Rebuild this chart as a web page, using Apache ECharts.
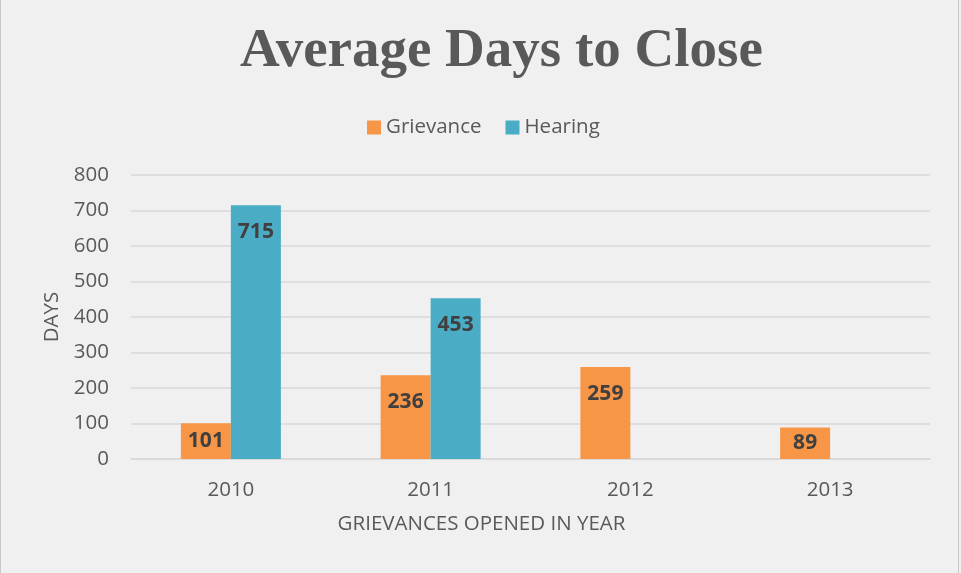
<!DOCTYPE html>
<html><head><meta charset="utf-8">
<script src="https://cdn.jsdelivr.net/npm/echarts@6/dist/echarts.min.js"></script>
<style>
html,body{margin:0;padding:0;background:#f0f0f0;}
#c{position:absolute;left:0;top:0;width:959px;height:573px;border-left:1px solid #c8c8c8;border-right:1px solid #c8c8c8;box-sizing:border-box;background:#f0f0f0;}
</style></head>
<body><div id="c"></div>
<script>
const categories = ['2010','2011','2012','2013'];
const grievance = [101, 236, 259, 89];
const hearing = [715, 453, null, null];
const yTicks = [0,100,200,300,400,500,600,700,800];

const chart = echarts.init(document.getElementById('c'));
const lbl = {show:true, position:'insideTop', distance:16, color:'#404040', fontWeight:'bold', fontSize:21, fontFamily:'Open Sans'};
const toItems = arr => arr.map(v => v == null ? null : (v < 150 ? {value:v, label:{position:'inside'}} : v));
chart.setOption({
  backgroundColor:'#f0f0f0',
  title:{text:'Average Days to Close', left:234, top:19,
    textStyle:{fontFamily:'Liberation Serif', fontWeight:'bold', fontSize:55, color:'#595959'}},
  legend:{top:112, left:361, itemWidth:14, itemHeight:14, itemGap:24, icon:'rect',
    textStyle:{fontFamily:'Open Sans', fontSize:20.5, color:'#595959'}},
  grid:{left:130, right:28, top:175, bottom:114},
  xAxis:{type:'category', data:categories,
    axisLine:{lineStyle:{color:'#d9d9d9', width:1.5}}, axisTick:{show:false},
    axisLabel:{fontFamily:'Open Sans', fontSize:20.5, color:'#595959', margin:21},
    name:'GRIEVANCES OPENED IN YEAR', nameLocation:'middle', nameGap:55,
    nameTextStyle:{fontFamily:'Open Sans', fontSize:20.5, color:'#595959', padding:[0,98,0,0]}},
  yAxis:{type:'value', min:0, max:800, interval:100,
    axisLabel:{fontFamily:'Open Sans', fontSize:20.5, color:'#595959', margin:22,
      formatter:v=>yTicks.includes(v)?String(v):''},
    splitLine:{lineStyle:{color:'#d9d9d9', width:1.5}},
    axisLine:{show:false}, axisTick:{show:false},
    name:'DAYS', nameLocation:'middle', nameGap:68, nameRotate:90,
    nameTextStyle:{fontFamily:'Open Sans', fontSize:20.5, color:'#595959'}},
  series:[
    {name:'Grievance', type:'bar', data:toItems(grievance), barWidth:50, barGap:'0%',
      itemStyle:{color:'#f79646'}, label:lbl},
    {name:'Hearing', type:'bar', data:toItems(hearing), barWidth:50, barGap:'0%',
      itemStyle:{color:'#4bacc6'}, label:lbl}
  ]
});
</script></body></html>
